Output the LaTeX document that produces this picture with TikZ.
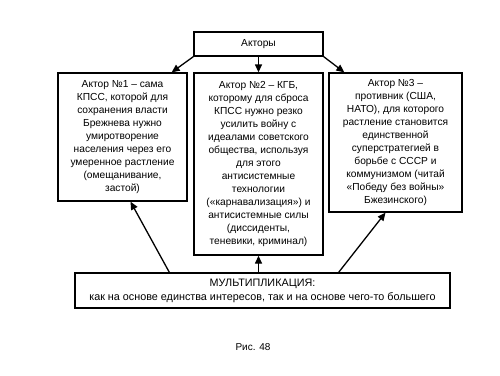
\documentclass[tikz,border=0pt]{standalone}
\usepackage{fontspec}
\setmainfont{Liberation Sans}
\usetikzlibrary{arrows.meta, calc}

\begin{document}
\begin{tikzpicture}[
    x=1pt, y=-1pt,
    box/.style={rectangle, draw, line width=1.3pt, align=center, inner sep=2pt,
        font=\fontsize{10.2}{13}\selectfont},
    link/.style={-{Triangle[length=8pt, width=7pt]}, line width=1.3pt}
]
    \useasboundingbox (0,0) rectangle (500,375);
    % actors
    \node[box, minimum width=129pt, minimum height=24pt] (actors) at (258.5, 44) {Акторы};
    \node[box, minimum width=129pt, minimum height=128pt] (a1) at (122.5, 137)
        {Актор №1 -- сама\\КПСС, которой для\\сохранения власти\\Брежнева нужно\\умиротворение\\населения через его\\умеренное растление\\(омещанивание,\\застой)};
    \node[box, minimum width=129pt, minimum height=182pt] (a2) at (258.5, 164)
        {Актор №2 -- КГБ,\\которому для сброса\\КПСС нужно резко\\усилить войну с\\идеалами советского\\общества, используя\\для этого\\антисистемные\\технологии\\(«карнавализация») и\\антисистемные силы\\(диссиденты,\\теневики, криминал)};
    \node[box, minimum width=133pt, minimum height=139pt] (a3) at (395.5, 142.5)
        {Актор №3 --\\противник (США,\\НАТО), для которого\\растление становится\\единственной\\суперстратегией в\\борьбе с СССР и\\коммунизмом (читай\\«Победу без войны»\\Бжезинского)};
    % multiplication
    \node[box, minimum width=375pt, minimum height=35pt,
        font=\fontsize{10.8}{14}\selectfont] (mult) at (262.5, 290.5)
        {МУЛЬТИПЛИКАЦИЯ:\\как на основе единства интересов, так и на основе чего-то большего};
    \node[font=\fontsize{10}{12}\selectfont] (caption) at (253, 347) {Рис. 48};
    % arrows
    \draw[link] (actors.south west) -- ([xshift=-16pt]a1.north east);
    \draw[link] (actors.south) -- (a2.north);
    \draw[link] (actors.south east) -- ([xshift=16pt]a3.north west);
    \draw[link] ([xshift=95pt]mult.north west) -- ([xshift=8pt]a1.south);
    \draw[link] (mult.north -| a2.south) -- (a2.south);
    \draw[link] ([xshift=-112pt]mult.north east) -- ([xshift=-10pt]a3.south);
\end{tikzpicture}
\end{document}
